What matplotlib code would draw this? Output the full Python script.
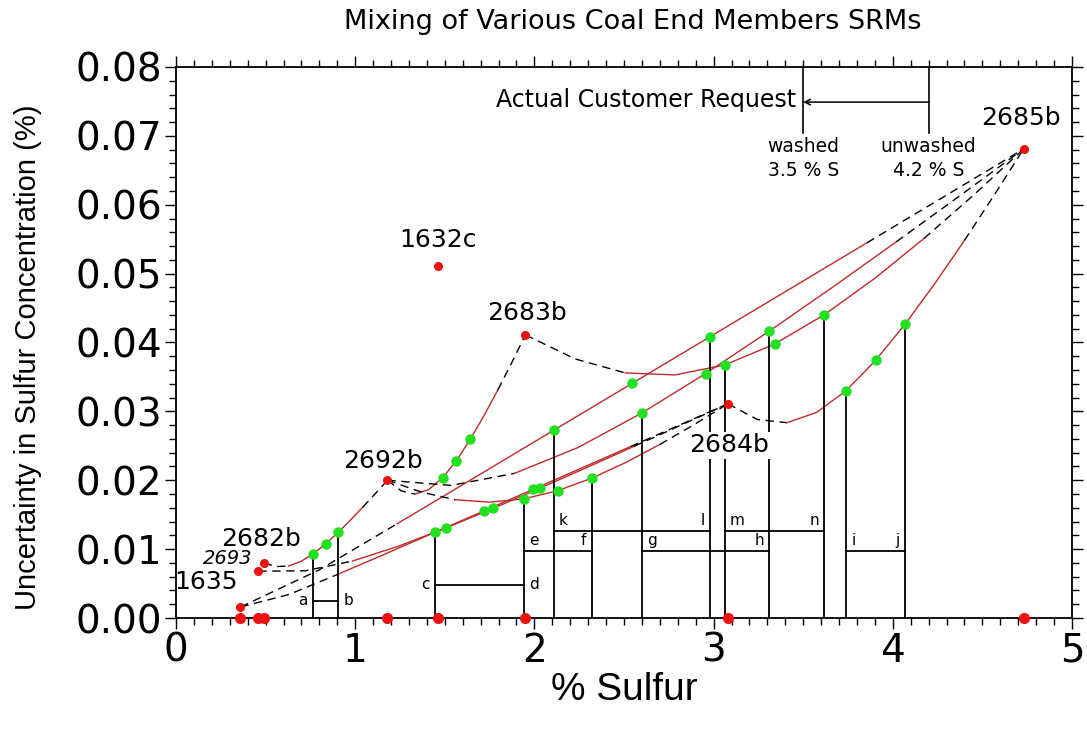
import matplotlib
matplotlib.use("Agg")
import matplotlib.pyplot as plt
from matplotlib.ticker import MultipleLocator, FormatStrFormatter

# end members: % S and its uncertainty
member_names = ["1635", "2693", "2682b", "2692b", "1632c", "2683b", "2684b", "2685b"]
member_x = [0.36, 0.46, 0.49, 1.18, 1.46, 1.95, 3.08, 4.73]
member_u = [0.0016, 0.0068, 0.0080, 0.0200, 0.0511, 0.0411, 0.0311, 0.0681]
label_x = [0.165, 0.29, 0.474, 1.155, 1.46, 1.959, 3.088, 4.715]
label_y = [0.0052, 0.0087, 0.0115, 0.0228, 0.0549, 0.0443, 0.0251, 0.0726]

# mixing curves (11 points each)
mix_2682b_2692b_x = [0.49, 0.559, 0.628, 0.697, 0.766, 0.835, 0.904, 0.973, 1.042, 1.111, 1.18]
mix_2682b_2692b_y = [0.0080, 0.00747, 0.00755, 0.00821, 0.00933, 0.01077, 0.01242, 0.0142, 0.01608, 0.01802, 0.0200]

mix_2692b_2683b_x = [1.18, 1.257, 1.334, 1.411, 1.488, 1.565, 1.642, 1.719, 1.796, 1.873, 1.95]
mix_2692b_2683b_y = [0.0200, 0.01846, 0.01799, 0.01866, 0.02035, 0.02285, 0.02593, 0.02939, 0.03312, 0.03704, 0.0411]

mix_2683b_2685b_x = [1.95, 2.228, 2.506, 2.784, 3.062, 3.34, 3.618, 3.896, 4.174, 4.452, 4.73]
mix_2683b_2685b_y = [0.0411, 0.03761, 0.03559, 0.03529, 0.03674, 0.03977, 0.04404, 0.04924, 0.0551, 0.06143, 0.0681]

mix_2684b_2685b_x = [3.08, 3.245, 3.41, 3.575, 3.74, 3.905, 4.07, 4.235, 4.40, 4.565, 4.73]
mix_2684b_2685b_y = [0.0311, 0.02881, 0.02836, 0.02985, 0.03302, 0.03743, 0.04272, 0.04857, 0.05483, 0.06137, 0.0681]

mix_2692b_2685b_x = [1.18, 1.535, 1.89, 2.245, 2.60, 2.955, 3.31, 3.665, 4.02, 4.375, 4.73]
mix_2692b_2685b_y = [0.0200, 0.01925, 0.02101, 0.02477, 0.02977, 0.03549, 0.04164, 0.04804, 0.05463, 0.06132, 0.0681]

mix_1635_2685b_x = [0.36, 0.797, 1.234, 1.671, 2.108, 2.545, 2.982, 3.419, 3.856, 4.293, 4.73]
mix_1635_2685b_y = [0.0016, 0.00696, 0.01368, 0.02046, 0.02726, 0.03406, 0.04087, 0.04767, 0.05448, 0.06129, 0.0681]

mix_1635_2684b_x = [0.36, 0.632, 0.904, 1.176, 1.448, 1.72, 1.992, 2.264, 2.536, 2.808, 3.08]
mix_1635_2684b_y = [0.0016, 0.00343, 0.00635, 0.0094, 0.01248, 0.01557, 0.01867, 0.02178, 0.02488, 0.02799, 0.0311]

mix_2693_2684b_x = [0.46, 0.722, 0.984, 1.246, 1.508, 1.77, 2.032, 2.294, 2.556, 2.818, 3.08]
mix_2693_2684b_y = [0.0068, 0.00686, 0.00826, 0.01047, 0.01309, 0.01592, 0.01886, 0.02187, 0.02492, 0.0280, 0.0311]

mix_2692b_2684b_x = [1.18, 1.37, 1.56, 1.75, 1.94, 2.13, 2.32, 2.51, 2.70, 2.89, 3.08]
mix_2692b_2684b_y = [0.0200, 0.01827, 0.01717, 0.01682, 0.01729, 0.01849, 0.0203, 0.02258, 0.0252, 0.02806, 0.0311]

curves = [
    (mix_2682b_2692b_x, mix_2682b_2692b_y),
    (mix_2692b_2683b_x, mix_2692b_2683b_y),
    (mix_2683b_2685b_x, mix_2683b_2685b_y),
    (mix_2684b_2685b_x, mix_2684b_2685b_y),
    (mix_2692b_2685b_x, mix_2692b_2685b_y),
    (mix_1635_2685b_x, mix_1635_2685b_y),
    (mix_1635_2684b_x, mix_1635_2684b_y),
    (mix_2693_2684b_x, mix_2693_2684b_y),
    (mix_2692b_2684b_x, mix_2692b_2684b_y),
]

# drop lines from selected mixtures
vert_x = [0.766, 0.904, 1.448, 1.94, 2.108, 2.32, 2.60, 2.982, 3.062, 3.31, 3.618, 3.74, 4.07]
vert_top = [0.00933, 0.01242, 0.01248, 0.01729, 0.02726, 0.0203, 0.02977, 0.04087, 0.03674, 0.04164, 0.04404, 0.03302, 0.04272]

# lettered connectors
pair_left = ["a", "c", "e", "k", "g", "m", "i"]
pair_right = ["b", "d", "f", "l", "h", "n", "j"]
pair_x0 = [0.766, 1.448, 1.94, 2.108, 2.60, 3.062, 3.74]
pair_x1 = [0.904, 1.94, 2.32, 2.982, 3.31, 3.618, 4.07]
pair_y = [0.0025, 0.0048, 0.0097, 0.0126, 0.0097, 0.0126, 0.0097]

RED_LINE = "#c02a2a"
RED_PT = "#ee1111"
GREEN = "#22e022"

fig = plt.figure(figsize=(10.87, 7.36), dpi=100)
ax = fig.add_axes([0.1619, 0.1603, 0.8243, 0.7487])

for cx, cy in curves:
    ax.plot(cx[:3], cy[:3], color="k", lw=1.0, dashes=(6, 4))
    ax.plot(cx[2:9], cy[2:9], color=RED_LINE, lw=1.0)
    ax.plot(cx[8:], cy[8:], color="k", lw=1.0, dashes=(6, 4))

for vx, vt in zip(vert_x, vert_top):
    ax.plot([vx, vx], [0, vt], color="k", lw=1.3, zorder=2)

for la, lb, x0, x1, yy in zip(pair_left, pair_right, pair_x0, pair_x1, pair_y):
    ax.plot([x0, x1], [yy, yy], color="k", lw=1.3)
    if la in ("a", "c"):
        ax.text(x0 - 0.03, yy, la, ha="right", va="center", fontsize=11)
        ax.text(x1 + 0.03, yy, lb, ha="left", va="center", fontsize=11)
    else:
        ax.text(x0 + 0.03, yy + 0.0004, la, ha="left", va="bottom", fontsize=11)
        ax.text(x1 - 0.03, yy + 0.0004, lb, ha="right", va="bottom", fontsize=11)

for cx, cy in curves:
    ax.plot(cx[4:7], cy[4:7], "o", color=GREEN, ms=6.5, mec=GREEN, zorder=5)

ax.plot(member_x, member_u, "o", color=RED_PT, ms=5.5, zorder=6)
ax.plot(member_x, [0] * len(member_x), "o", color=RED_PT, ms=7, zorder=6, clip_on=False)

for name, lx, ly in zip(member_names, label_x, label_y):
    if name == "2693":
        ax.text(lx, ly, name, ha="center", va="center", fontsize=14, style="italic")
    elif name == "2684b":
        ax.text(lx, ly, name, ha="center", va="center", fontsize=18, zorder=4,
                bbox=dict(facecolor="white", edgecolor="none", pad=1))
    else:
        ax.text(lx, ly, name, ha="center", va="center", fontsize=18)

# customer request annotation
ax.plot([3.5, 3.5], [0.0704, 0.08], color="k", lw=1.2)
ax.plot([4.2, 4.2], [0.0704, 0.08], color="k", lw=1.2)
ax.annotate("", xy=(3.5, 0.0749), xytext=(4.2, 0.0749),
            arrowprops=dict(arrowstyle="->", lw=1.1, color="k", shrinkA=0, shrinkB=0))
ax.text(3.46, 0.0752, "Actual Customer Request", ha="right", va="center", fontsize=17)
ax.text(3.5, 0.0698, "washed\n3.5 % S", ha="center", va="top", fontsize=13.5, linespacing=1.3)
ax.text(4.2, 0.0698, "unwashed\n4.2 % S", ha="center", va="top", fontsize=13.5, linespacing=1.3)

ax.set_xlim(0, 5)
ax.set_ylim(0, 0.08)
ax.xaxis.set_major_locator(MultipleLocator(1))
ax.xaxis.set_minor_locator(MultipleLocator(0.1))
ax.yaxis.set_major_locator(MultipleLocator(0.01))
ax.yaxis.set_minor_locator(MultipleLocator(0.002))
ax.yaxis.set_major_formatter(FormatStrFormatter("%.2f"))
ax.tick_params(which="both", direction="out", top=True, right=True, width=1)
ax.tick_params(which="major", length=8, labelsize=28, pad=2)
ax.tick_params(which="minor", length=5)
for s in ax.spines.values():
    s.set_linewidth(1.3)

ax.set_xlabel("% Sulfur", fontsize=28, family="Liberation Sans", va="center")
ax.xaxis.set_label_coords(0.5, -0.131)
ax.set_ylabel("Uncertainty in Sulfur Concentration (%)", fontsize=21,
              family="Liberation Sans", va="center")
ax.yaxis.set_label_coords(-0.165, 0.474)

fig.text(0.5823, 0.970, "Mixing of Various Coal End Members SRMs",
         ha="center", va="center", fontsize=19.5)

fig.savefig("out.png", dpi=100)
